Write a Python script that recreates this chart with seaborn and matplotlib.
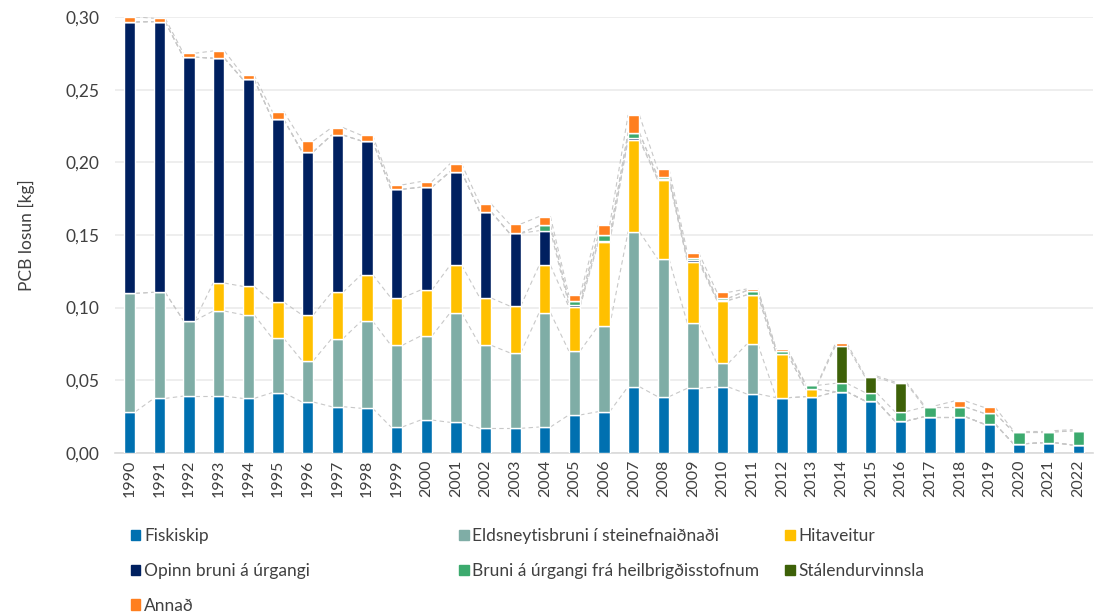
import numpy as np
import seaborn as sns
import matplotlib.pyplot as plt
from matplotlib.ticker import FuncFormatter
from matplotlib.patches import Patch

years = [str(y) for y in range(1990, 2023)]

fiskiskip = [0.0283, 0.0374, 0.0390, 0.0390, 0.0374, 0.0414, 0.0349, 0.0317, 0.0306, 0.0177,
             0.0225, 0.0209, 0.0168, 0.0168, 0.0177, 0.0260, 0.0283, 0.0455, 0.0386, 0.0444,
             0.0453, 0.0405, 0.0379, 0.0386, 0.0420, 0.0356, 0.0218, 0.0248, 0.0248, 0.0198,
             0.0062, 0.0069, 0.0053]
eldsneyti = [0.0815, 0.0731, 0.0520, 0.0586, 0.0577, 0.0374, 0.0285, 0.0469, 0.0601, 0.0563,
             0.0579, 0.0756, 0.0572, 0.0521, 0.0788, 0.0441, 0.0592, 0.1068, 0.0949, 0.0448,
             0.0163, 0.0342, 0.0, 0.0, 0.0, 0.0, 0.0, 0.0, 0.0, 0.0,
             0.0, 0.0, 0.0]
hitaveitur = [0.0, 0.0, 0.0, 0.0193, 0.0195, 0.0250, 0.0315, 0.0319, 0.0320, 0.0326,
              0.0317, 0.0328, 0.0326, 0.0322, 0.0326, 0.0305, 0.0575, 0.0632, 0.0544, 0.0424,
              0.0432, 0.0340, 0.0301, 0.0051, 0.0, 0.0, 0.0, 0.0, 0.0, 0.0,
              0.0, 0.0, 0.0]
opinn = [0.1870, 0.1865, 0.1815, 0.1549, 0.1427, 0.1259, 0.1125, 0.1084, 0.0921, 0.0749,
         0.0708, 0.0644, 0.0593, 0.0501, 0.0239, 0.0014, 0.0009, 0.0012, 0.0005, 0.0009,
         0.0003, 0.0, 0.0, 0.0, 0.0, 0.0, 0.0, 0.0, 0.0, 0.0,
         0.0, 0.0, 0.0]
heilbrigdis = [0.0, 0.0, 0.0, 0.0, 0.0, 0.0, 0.0, 0.0, 0.0, 0.0,
               0.0, 0.0, 0.0, 0.0, 0.0037, 0.0025, 0.0039, 0.0038, 0.0018, 0.0015,
               0.0013, 0.0030, 0.0023, 0.0027, 0.0058, 0.0058, 0.0065, 0.0067, 0.0067, 0.0074,
               0.0081, 0.0074, 0.0097]
stal = [0.0] * 24 + [0.0259, 0.0106, 0.0195, 0.0, 0.0, 0.0, 0.0, 0.0, 0.0]
annad = [0.0035, 0.0023, 0.0027, 0.0050, 0.0030, 0.0053, 0.0074, 0.0051, 0.0039, 0.0030,
         0.0039, 0.0055, 0.0055, 0.0064, 0.0060, 0.0042, 0.0071, 0.0122, 0.0051, 0.0038,
         0.0041, 0.0011, 0.0009, 0.0007, 0.0017, 0.0009, 0.0009, 0.0009, 0.0041, 0.0041,
         0.0009, 0.0009, 0.0009]

labels = ["Fiskiskip", "Eldsneytisbruni í steinefnaiðnaði", "Hitaveitur",
          "Opinn bruni á úrgangi", "Bruni á úrgangi frá heilbrigðisstofnum",
          "Stálendurvinnsla", "Annað"]
series = [fiskiskip, eldsneyti, hitaveitur, opinn, heilbrigdis, stal, annad]
colors = ["#0070B0", "#7FADA6", "#FFC000", "#002060", "#3CAA6E", "#3D6108", "#FF7F1E"]

sns.set_theme(style="white")
plt.rcParams['font.family'] = ['Lato', 'DejaVu Sans']

fig = plt.figure(figsize=(11.09, 6.15), dpi=100)
ax = fig.add_axes([0.1037, 0.2639, 0.882, 0.708])

x = np.arange(len(years))
w = 0.38
bottom = np.zeros(len(years))
tops = []
for vals, lab, col in zip(series, labels, colors):
    vals = np.array(vals)
    ax.bar(x, vals, w, bottom=bottom, color=col, label=lab, zorder=3)
    bottom = bottom + vals
    tops.append(bottom.copy())

# series lines between bars (Excel style)
for cum in tops:
    for i in range(len(years) - 1):
        ax.plot([x[i] + w / 2, x[i + 1] - w / 2], [cum[i], cum[i + 1]],
                color="#C8C8C8", lw=0.8, ls=(0, (4, 3)), zorder=2)

ax.set_xlim(-0.5, len(years) - 0.5)
ax.set_ylim(0, 0.30)
ax.set_yticks(np.arange(0, 0.301, 0.05))
ax.yaxis.set_major_formatter(FuncFormatter(lambda v, p: f"{v:.2f}".replace('.', ',')))
ax.set_xticks(x)
ax.set_xticklabels(years, rotation=90)
ax.tick_params(axis='x', labelsize=11.5, colors="#404040", length=0, pad=5)
ax.tick_params(axis='y', labelsize=12.5, colors="#404040", length=0, pad=11)
ax.yaxis.grid(True, color="#EBEBEB", lw=1.2, zorder=0)
ax.set_axisbelow(True)
for s in ["top", "right", "left"]:
    ax.spines[s].set_visible(False)
ax.spines["bottom"].set_color("#D9D9D9")
ax.spines["bottom"].set_linewidth(1.2)
ax.set_ylabel("PCB losun [kg]", fontsize=12.5, color="#404040", labelpad=22)

handles = [Patch(color=c) for c in colors]
columns = [[0, 3, 6], [1, 4], [2, 5]]
col_x = [0.118, 0.414, 0.708]
for cx, idx in zip(col_x, columns):
    leg = fig.legend([handles[i] for i in idx], [labels[i] for i in idx],
                     loc="upper left", bbox_to_anchor=(cx, 0.141), frameon=False,
                     fontsize=12.5, handlelength=0.55, handleheight=0.55,
                     handletextpad=0.2, labelspacing=1.08, borderaxespad=0, borderpad=0)
    for t in leg.get_texts():
        t.set_color("#404040")

fig.savefig("out.png", dpi=100)
